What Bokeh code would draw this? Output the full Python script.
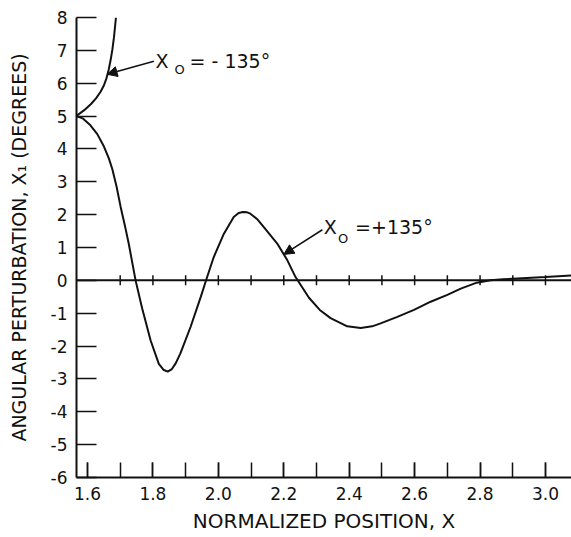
import numpy as np
from bokeh.plotting import figure
from bokeh.models import FixedTicker, Label, Arrow, NormalHead, Range1d, Span
from bokeh.embed import file_html
from bokeh.resources import INLINE

# ---- data ----
x_plus = [1.566, 1.585, 1.609, 1.630, 1.650, 1.665, 1.676, 1.689, 1.701, 1.714, 1.726, 1.747,
          1.767, 1.793, 1.818, 1.832, 1.845, 1.858, 1.870, 1.884, 1.915, 1.946,
          1.964, 1.986, 2.017, 2.047, 2.062, 2.075, 2.088, 2.098, 2.120, 2.139,
          2.180, 2.211, 2.236, 2.277, 2.310, 2.343, 2.394, 2.435, 2.470, 2.496,
          2.547, 2.598, 2.649, 2.700, 2.741, 2.790, 2.832, 2.870, 2.900, 3.000, 3.080]
y_plus = [5.00, 4.93, 4.72, 4.45, 4.08, 3.72, 3.38, 2.85, 2.25, 1.68, 1.12, 0.00,
          -0.85, -1.83, -2.54, -2.72, -2.78, -2.70, -2.52, -2.22, -1.42, -0.51,
          0.05, 0.71, 1.42, 1.93, 2.05, 2.08, 2.07, 2.03, 1.85, 1.62,
          1.12, 0.61, 0.10, -0.53, -0.90, -1.15, -1.40, -1.45, -1.40, -1.31,
          -1.11, -0.90, -0.65, -0.44, -0.25, -0.07, 0.00, 0.03, 0.05, 0.10, 0.15]

x_minus = [1.566, 1.590, 1.610, 1.626, 1.640, 1.650, 1.658, 1.665, 1.671, 1.676, 1.681, 1.687]
y_minus = [5.00, 5.18, 5.36, 5.54, 5.74, 5.93, 6.15, 6.42, 6.72, 7.02, 7.40, 8.00]

x_major = [1.6, 1.8, 2.0, 2.2, 2.4, 2.6, 2.8, 3.0]
x_major_labels = ["1.6", "1.8", "2.0", "2.2", "2.4", "2.6", "2.8", "3.0"]
x_minor = [1.6, 1.7, 1.8, 1.9, 2.0, 2.1, 2.2, 2.3, 2.4, 2.5, 2.6, 2.7, 2.8, 2.9, 3.0]
zero_line_ticks = [1.7, 1.8, 1.9, 2.0, 2.1, 2.2, 2.3, 2.4, 2.5, 2.6, 2.7, 2.8, 2.9, 3.0]
y_major = [-6, -5, -4, -3, -2, -1, 0, 1, 2, 3, 4, 5, 6, 7, 8]
y_major_labels = ["-6", "-5", "-4", "-3", "-2", "-1", "0", "1", "2", "3", "4", "5", "6", "7", "8"]

FONT = "DejaVu Sans"
INK = "#111111"

p = figure(width=571, height=537, output_backend="svg", toolbar_location=None,
           x_range=Range1d(1.5664, 3.0795), y_range=Range1d(-6, 8),
           min_border_left=76, min_border_right=0, min_border_top=17,
           min_border_bottom=60)
p.outline_line_color = None
p.grid.visible = False
p.background_fill_color = "white"
p.border_fill_color = "white"

# x axis
xa = p.xaxis[0]
xa.ticker = FixedTicker(ticks=x_major, minor_ticks=x_minor)
xa.major_label_overrides = {t: l for t, l in zip(x_major, x_major_labels)}
xa.major_tick_in = 15
xa.major_tick_out = 0
xa.minor_tick_in = 15
xa.minor_tick_out = 0
xa.axis_line_width = 2
xa.axis_line_color = INK
xa.major_tick_line_color = INK
xa.minor_tick_line_color = INK
xa.major_tick_line_width = 1.5
xa.minor_tick_line_width = 1.5
xa.major_label_text_font = FONT
xa.major_label_text_font_size = "17px"
xa.major_label_text_color = INK
xa.major_label_standoff = 9
xa.axis_label = "NORMALIZED POSITION, X"
xa.axis_label_text_font = FONT
xa.axis_label_text_font_size = "20px"
xa.axis_label_text_font_style = "normal"
xa.axis_label_text_color = INK
xa.axis_label_standoff = 6

# y axis
ya = p.yaxis[0]
ya.ticker = FixedTicker(ticks=y_major, minor_ticks=[])
ya.major_label_overrides = {t: l for t, l in zip(y_major, y_major_labels)}
ya.major_tick_in = 20
ya.major_tick_out = 0
ya.minor_tick_in = 0
ya.minor_tick_out = 0
ya.axis_line_width = 2
ya.axis_line_color = INK
ya.major_tick_line_color = INK
ya.major_tick_line_width = 1.5
ya.major_label_text_font = FONT
ya.major_label_text_font_size = "17px"
ya.major_label_text_color = INK
ya.major_label_standoff = 9
ya.axis_label = "ANGULAR PERTURBATION, X\u2081 (DEGREES)"
ya.axis_label_text_font = FONT
ya.axis_label_text_font_size = "19px"
ya.axis_label_text_font_style = "normal"
ya.axis_label_text_color = INK
ya.axis_label_standoff = 18

# zero line with crossing ticks
p.add_layout(Span(location=0, dimension="width", line_color=INK, line_width=2))
p.scatter(x=zero_line_ticks, y=[0] * len(zero_line_ticks), marker="dash",
          angle=np.pi / 2, size=10, line_color=INK, line_width=1.5)

# curves
p.line(x_plus, y_plus, line_color=INK, line_width=2)
p.line(x_minus, y_minus, line_color=INK, line_width=2)

# annotations
p.add_layout(Arrow(end=NormalHead(size=10, fill_color=INK, line_color=INK),
                   x_start=1.803, y_start=6.67, x_end=1.660, y_end=6.27,
                   line_color=INK, line_width=1.5))
p.add_layout(Arrow(end=NormalHead(size=10, fill_color=INK, line_color=INK),
                   x_start=2.318, y_start=1.54, x_end=2.200, y_end=0.79,
                   line_color=INK, line_width=1.5))

def lab(x, y, t, size):
    p.add_layout(Label(x=x, y=y, text=t, text_font=FONT, text_font_size=size,
                       text_baseline="middle", text_align="left", text_color=INK))

lab(1.808, 6.665, "X", "19px")
lab(1.866, 6.42, "O", "13px")
lab(1.912, 6.665, "= - 135\u00b0", "19px")

lab(2.322, 1.61, "X", "19px")
lab(2.366, 1.28, "O", "13px")
lab(2.418, 1.61, "=+135\u00b0", "19px")

open("out.html", "w").write(file_html(p, INLINE))
